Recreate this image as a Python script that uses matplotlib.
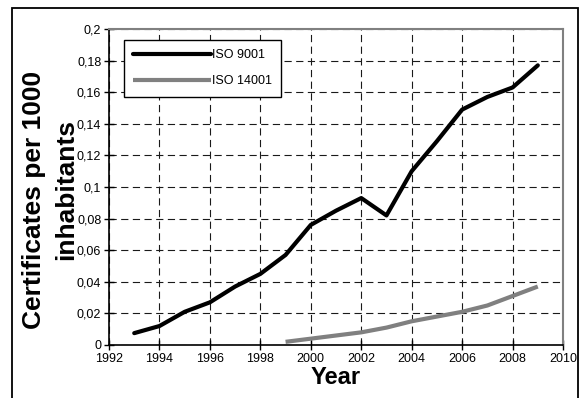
import matplotlib.pyplot as plt
from matplotlib.patches import Rectangle
from matplotlib.ticker import FuncFormatter, MultipleLocator

plt.rcParams['font.family'] = ['Liberation Sans', 'DejaVu Sans']

years_9001 = [1993, 1994, 1995, 1996, 1997, 1998, 1999, 2000, 2001,
              2002, 2003, 2004, 2005, 2006, 2007, 2008, 2009]
iso_9001 = [0.0075, 0.012, 0.021, 0.027, 0.037, 0.045, 0.057, 0.076, 0.085,
            0.093, 0.082, 0.11, 0.129, 0.149, 0.157, 0.163, 0.177]

years_14001 = [1999, 2000, 2001, 2002, 2003, 2004, 2005, 2006, 2007, 2008, 2009]
iso_14001 = [0.002, 0.004, 0.006, 0.008, 0.011, 0.015, 0.018, 0.021, 0.025,
             0.031, 0.037]

fig = plt.figure(figsize=(5.82, 3.98), dpi=100)
ax = fig.add_axes([0.1873, 0.1332, 0.7801, 0.7939])

# outer frame
fig.patches.append(Rectangle((12 / 582, -0.05), 566 / 582, 1.05 - 8 / 398,
                             transform=fig.transFigure, fill=False,
                             edgecolor='black', linewidth=1.3))

ax.plot(years_9001, iso_9001, color='black', linewidth=3, label='ISO 9001',
        solid_capstyle='round')
ax.plot(years_14001, iso_14001, color='#808080', linewidth=3, label='ISO 14001',
        solid_capstyle='butt')

ax.set_xlim(1992, 2010)
ax.set_ylim(0, 0.2)
ax.xaxis.set_major_locator(MultipleLocator(2))
ax.yaxis.set_major_locator(MultipleLocator(0.02))


def comma_fmt(v, pos):
    s = ('%.2f' % v).rstrip('0').rstrip('.')
    return s.replace('.', ',')


ax.yaxis.set_major_formatter(FuncFormatter(comma_fmt))

ax.grid(True, color='#1a1a1a', linestyle=(0, (6.5, 4)), linewidth=0.8)
ax.set_axisbelow(True)

for side in ['top', 'right']:
    ax.spines[side].set_color('#808080')
    ax.spines[side].set_linewidth(1.5)
for side in ['left', 'bottom']:
    ax.spines[side].set_color('black')
    ax.spines[side].set_linewidth(1.2)

ax.tick_params(direction='inout', length=7, width=1, labelsize=9, pad=2)

ax.set_xlabel('Year', fontsize=17, fontweight='bold', labelpad=1)
fig.text(34 / 582, 1 - 200 / 398, 'Certificates per 1000', rotation=90,
         ha='center', va='center', fontsize=19, fontweight='bold')
fig.text(66 / 582, 1 - 190 / 398, 'inhabitants', rotation=90,
         ha='center', va='center', fontsize=19, fontweight='bold')

leg = ax.legend(loc='upper left', bbox_to_anchor=(0.033, 0.965),
                fontsize=9, handlelength=6.2, handletextpad=0.1,
                labelspacing=1.1, borderpad=0.75, fancybox=False,
                framealpha=1, edgecolor='black', borderaxespad=0)
leg.get_frame().set_linewidth(1.0)

fig.savefig('out.png', dpi=100)
